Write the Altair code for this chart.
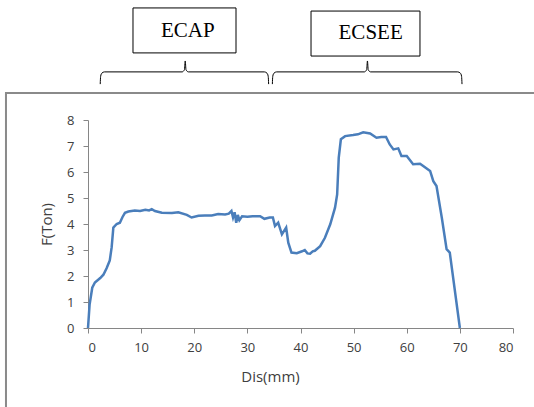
import altair as alt
import pandas as pd

# ---- main curve ----
dis_mm = [0, 0.3, 0.8, 1.3, 2.3, 2.9, 3.5, 4.1, 4.45, 4.77, 5.4, 6.0, 6.5, 6.96, 7.6,
          8.8, 9.8, 10.8, 11.5, 12.0, 12.6, 13.9, 15.8, 17.0, 18.6, 19.5, 20.8, 22.0,
          23.3, 24.5, 25.8, 26.5, 27.0, 27.3, 27.6, 27.9, 28.2, 28.5, 29.0, 30.0, 31.0,
          32.4, 33.2, 34.2, 34.8, 35.2, 35.8, 36.5, 37.3, 37.7, 38.3, 39.3, 40.3, 40.8,
          41.3, 41.8, 42.3, 42.7, 43.7, 44.6, 45.6, 46.5, 46.9, 47.2, 47.6, 48.4, 49.9,
          50.8, 51.8, 53.1, 54.3, 55.2, 56.1, 56.8, 57.5, 58.4, 59.0, 60.0, 61.2, 62.5,
          63.1, 64.4, 65.0, 65.6, 66.6, 67.5, 68.1, 70.0]
f_ton = [0, 0.9, 1.55, 1.75, 1.92, 2.05, 2.3, 2.6, 3.1, 3.86, 4.0, 4.05, 4.27, 4.43, 4.48,
         4.52, 4.5, 4.55, 4.52, 4.57, 4.5, 4.43, 4.42, 4.45, 4.35, 4.25, 4.32, 4.33,
         4.33, 4.38, 4.37, 4.4, 4.5, 4.25, 4.45, 4.05, 4.35, 4.15, 4.3, 4.28, 4.3,
         4.3, 4.2, 4.25, 4.25, 3.92, 4.05, 3.6, 3.86, 3.28, 2.9, 2.88, 2.95, 3.0,
         2.87, 2.86, 2.95, 2.97, 3.15, 3.47, 3.99, 4.63, 5.14, 6.55, 7.26, 7.38, 7.42,
         7.45, 7.53, 7.48, 7.32, 7.35, 7.35, 7.06, 6.87, 6.91, 6.62, 6.62, 6.3, 6.32,
         6.23, 6.04, 5.65, 5.46, 4.24, 3.03, 2.9, 0]

x_ticks = [0, 10, 20, 30, 40, 50, 60, 70, 80]
y_ticks = [0, 1, 2, 3, 4, 5, 6, 7, 8]

# ---- annotations (in data units) ----
box_labels = ["ECAP", "ECSEE"]
box_x0 = [8.47, 41.98]
box_x1 = [27.86, 62.49]
box_y0 = [10.58, 10.46]
box_y1 = [12.31, 12.19]
label_x = [18.8, 53.2]
label_y = [11.42, 11.33]

brace_start = [2.3, 34.7]
brace_mid = [18.3, 52.6]
brace_end = [34.0, 70.4]
brace_line_y = 9.85
brace_end_y = 9.38
brace_peak_y = 10.27

frame_x = [-15.44, 120]
frame_y = [-8, 9.04]

x_scale = alt.Scale(domain=[0, 80], nice=False, zero=False)
y_scale = alt.Scale(domain=[0, 8], nice=False, zero=False)

curve = pd.DataFrame({"d": dis_mm, "f": f_ton, "i": range(len(dis_mm))})

rows = []
for k, (a, m, b) in enumerate(zip(brace_start, brace_mid, brace_end)):
    pts = [(a, brace_end_y), (a + 0.08, 9.68), (a + 0.3, 9.8), (a + 0.8, brace_line_y),
           (m - 0.6, brace_line_y), (m - 0.15, 9.93), (m, brace_peak_y), (m + 0.15, 9.93),
           (m + 0.6, brace_line_y),
           (b - 0.8, brace_line_y), (b - 0.3, 9.8), (b - 0.08, 9.68), (b, brace_end_y)]
    for j, (px, py) in enumerate(pts):
        rows.append({"b": k, "o": j, "x": px, "y": py})
braces = pd.DataFrame(rows)

boxes = pd.DataFrame({"x0": box_x0, "x1": box_x1, "y0": box_y0, "y1": box_y1,
                      "t": box_labels, "tx": label_x, "ty": label_y})
frame = pd.DataFrame({"x0": [frame_x[0]], "x1": [frame_x[1]], "y0": [frame_y[0]], "y1": [frame_y[1]]})

axis_common = dict(grid=False, domainColor="#868686", tickColor="#868686", tickSize=5,
                   labelFont="Open Sans", labelFontSize=13, labelColor="#404040",
                   titleFont="Open Sans", titleFontSize=15, titleFontWeight="normal",
                   titleColor="#404040")
X_AX = alt.Axis(title="Dis(mm)", values=x_ticks, labelPadding=8,
                titleX=182, titleY=48, titleBaseline="middle", **axis_common)
Y_AX = alt.Axis(title="F(Ton)", values=y_ticks, labelPadding=9,
                titleX=-42, titleY=104, titleBaseline="middle", titleAngle=270,
                **axis_common)


def X(field):
    return alt.X(field, scale=x_scale, axis=X_AX, title="Dis(mm)")


def Y(field):
    return alt.Y(field, scale=y_scale, axis=Y_AX, title="F(Ton)")


frame_layer = alt.Chart(frame).mark_rect(fillOpacity=0, stroke="#8a8a8a", strokeWidth=2, clip=False).encode(
    x=X("x0:Q"), x2="x1:Q", y=Y("y0:Q"), y2="y1:Q")

line_layer = alt.Chart(curve).mark_line(color="#4A7EBB", strokeWidth=2.5, clip=False).encode(
    x=X("d:Q"), y=Y("f:Q"), order="i:Q")

brace_layer = alt.Chart(braces).mark_line(color="black", strokeWidth=1, clip=False,
                                          interpolate="monotone").encode(
    x=X("x:Q"), y=Y("y:Q"), detail="b:N", order="o:Q")

box_layer = alt.Chart(boxes).mark_rect(fill="white", stroke="black", strokeWidth=1, clip=False).encode(
    x=X("x0:Q"), x2="x1:Q", y=Y("y0:Q"), y2="y1:Q")

text_layer = alt.Chart(boxes).mark_text(font="Liberation Serif", fontSize=21, color="black",
                                        align="center", baseline="middle", clip=False).encode(
    x=X("tx:Q"), y=Y("ty:Q"), text="t:N")

chart = alt.layer(frame_layer, line_layer, brace_layer, box_layer, text_layer).properties(
    width=425, height=208,
    autosize=alt.AutoSizeParams(type="none"),
    padding={"left": 88, "top": 120, "right": 21, "bottom": 79},
    background="white",
).configure_view(stroke=None)

chart.save("out.html", embed_options={"renderer": "svg", "actions": False})
